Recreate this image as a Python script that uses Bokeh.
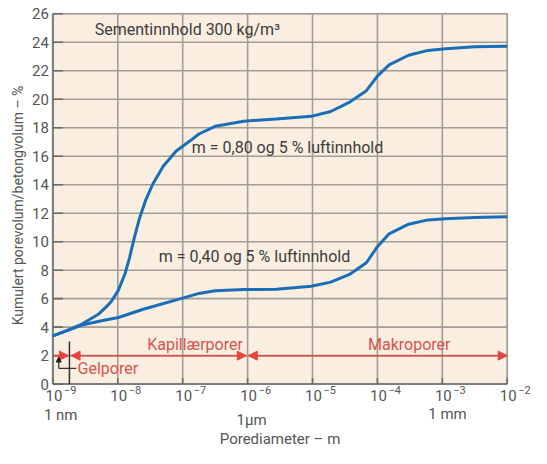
import math
from bokeh.plotting import figure
from bokeh.models import Label, Arrow, NormalHead, Range1d, BoxAnnotation
from bokeh.embed import file_html
from bokeh.resources import INLINE

# ---- data (log10 of pore diameter in m, cumulative pore volume %) ----
upper_exp = [-9.0, -8.775, -8.55, -8.30, -8.17, -8.10, -7.99, -7.89, -7.82, -7.75,
             -7.67, -7.57, -7.46, -7.30, -7.10, -6.88, -6.75, -6.50, -6.06, -5.56,
             -5.02, -4.72, -4.42, -4.17, -4.00, -3.82, -3.52, -3.22, -2.95, -2.50,
             -2.00]
upper_val = [3.39, 3.77, 4.22, 4.90, 5.46, 5.80, 6.60, 7.73, 8.85, 10.20,
             11.57, 12.92, 14.05, 15.30, 16.37, 17.10, 17.56, 18.10, 18.46, 18.62,
             18.80, 19.14, 19.82, 20.60, 21.63, 22.41, 23.09, 23.43, 23.55, 23.68,
             23.73]
lower_exp = [-9.0, -8.775, -8.55, -8.25, -7.99, -7.62, -7.50, -7.00, -6.75, -6.50,
             -6.06, -5.56, -5.02, -4.72, -4.42, -4.17, -4.00, -3.82, -3.52, -3.22,
             -2.95, -2.50, -2.00]
lower_val = [3.39, 3.77, 4.15, 4.45, 4.68, 5.24, 5.40, 6.04, 6.37, 6.55,
             6.64, 6.66, 6.87, 7.16, 7.73, 8.52, 9.65, 10.55, 11.23, 11.53,
             11.61, 11.70, 11.75]

x_tick_exps = [-9, -8, -7, -6, -5, -4, -3, -2]
x_tick_exp_labels = ["−9", "−8", "−7", "−6", "−5", "−4", "−3", "−2"]
y_ticks = list(range(0, 27, 2))
y_tick_labels = [str(v) for v in y_ticks]
unit_label_exps = [-9, -6, -3]
unit_labels = ["1 nm", "1\u00b5m", "1 mm"]

label_upper = "m = 0,80 og 5 % luftinnhold"
label_lower = "m = 0,40 og 5 % luftinnhold"
title_text = "Sementinnhold 300 kg/m\u00b3"
x_title = "Porediameter – m"
y_title = "Kumulert porevolum/betongvolum – %"

# pore class boundaries (log10 m)
gel_end = -8.76
kap_start, kap_end = -8.72, -6.02
makro_start, makro_end = -5.99, -2.0
pore_class_level = 2
gel_marker_exp = -8.745

X_MIN, X_MAX = 1e-9, 1e-2
Y_MIN, Y_MAX = 0, 26

FONT = "Roboto"
GRAY = "#555555"
DARK = "#3c3c3c"
RED = "#e5453f"
RED_TXT = "#d9534f"
BLUE = "#1a6eb8"
GRID = "#a39d97"
AXIS = "#7d7d7d"
TICK = "#6a6a6a"

# the frame spans the whole canvas so that axis texts can be drawn as labels
p = figure(width=531, height=448, x_axis_type="log",
           x_range=Range1d(10.0 ** -9.807, 10.0 ** -1.626), y_range=Range1d(-4.52, 26.934),
           output_backend="svg", toolbar_location=None,
           min_border_left=0, min_border_right=0, min_border_top=0, min_border_bottom=0)

p.background_fill_color = "white"
p.border_fill_color = "white"
p.outline_line_color = None
p.xgrid.visible = False
p.ygrid.visible = False
p.xaxis.visible = False
p.yaxis.visible = False

p.add_layout(BoxAnnotation(left=X_MIN, right=X_MAX, bottom=Y_MIN, top=Y_MAX,
                           fill_color="#FAEEE0", fill_alpha=1.0,
                           line_color="#8c8c8c", line_width=2, level="underlay"))

xt = [10.0 ** e for e in x_tick_exps]
n_x, n_y = len(xt), len(y_ticks)
# grid
p.segment(x0=xt, y0=[Y_MIN] * n_x, x1=xt, y1=[Y_MAX] * n_x, line_color=GRID, line_width=1.6)
p.segment(x0=[X_MIN] * n_y, y0=y_ticks, x1=[X_MAX] * n_y, y1=y_ticks, line_color=GRID, line_width=1.6)
# axis lines and inner ticks
p.segment(x0=[X_MIN], y0=[Y_MIN], x1=[X_MAX], y1=[Y_MIN], line_color=AXIS, line_width=2)
p.segment(x0=[X_MIN], y0=[Y_MIN], x1=[X_MIN], y1=[Y_MAX], line_color=AXIS, line_width=2)
p.segment(x0=xt, y0=[Y_MIN] * n_x, x1=xt, y1=[0.42] * n_x, line_color=TICK, line_width=1.6)
p.segment(x0=[X_MIN] * n_y, y0=y_ticks, x1=[10.0 ** -8.846] * n_y, y1=y_ticks, line_color=TICK, line_width=1.6)

# curves
p.line([10.0 ** e for e in upper_exp], upper_val, line_color=BLUE, line_width=3)
p.line([10.0 ** e for e in lower_exp], lower_val, line_color=BLUE, line_width=3)

# y tick labels and title
for v, lab in zip(y_ticks, y_tick_labels):
    p.add_layout(Label(x=X_MIN, y=v, text=lab, text_align="right", text_baseline="middle",
                       x_offset=-4, text_font=FONT, text_font_size="15px", text_color=GRAY))
p.add_layout(Label(x=10.0 ** -9.538, y=12.54, text=y_title, angle=math.pi / 2,
                   text_align="center", text_baseline="middle",
                   text_font=FONT, text_font_size="14px", text_color=GRAY))

# x tick labels 10^n with raised exponents
for e, lab in zip(x_tick_exps, x_tick_exp_labels):
    p.add_layout(Label(x=10.0 ** e, y=-0.80, text="10", text_align="center", text_baseline="middle",
                       x_offset=1, text_font=FONT, text_font_size="15px", text_color=GRAY))
    p.add_layout(Label(x=10.0 ** e, y=-0.42, text=lab, text_align="left", text_baseline="middle",
                       x_offset=11, text_font=FONT, text_font_size="11px", text_color=GRAY))

unit_y = [-2.18, -2.49, -2.07]
unit_off = [-9, -11, -14]
for e, lab, yy, off in zip(unit_label_exps, unit_labels, unit_y, unit_off):
    p.add_layout(Label(x=10.0 ** e, y=yy, text=lab, text_align="left", text_baseline="middle",
                       x_offset=off, text_font=FONT, text_font_size="15px", text_color=GRAY))

p.add_layout(Label(x=10.0 ** -5.5, y=-3.84, text=x_title, text_align="center", text_baseline="middle",
                   text_font=FONT, text_font_size="15px", text_color=GRAY))

# annotations
TS = "16px"
p.add_layout(Label(x=10.0 ** -8.356, y=24.9, text=title_text, text_align="left", text_baseline="middle",
                   text_font=FONT, text_font_size=TS, text_color=DARK))
p.add_layout(Label(x=10.0 ** -6.86, y=16.63, text=label_upper, text_align="left", text_baseline="middle",
                   text_font=FONT, text_font_size=TS, text_color=DARK))
p.add_layout(Label(x=10.0 ** -7.37, y=8.97, text=label_lower, text_align="left", text_baseline="middle",
                   text_font=FONT, text_font_size=TS, text_color=DARK))

# pore-class arrows
def head():
    return NormalHead(size=9, fill_color=RED, line_color=RED, line_width=1)

p.add_layout(Arrow(x_start=X_MIN, y_start=pore_class_level, x_end=10.0 ** gel_end, y_end=pore_class_level,
                   end=head(), line_color=RED, line_width=1.5))
p.add_layout(Arrow(x_start=10.0 ** kap_start, y_start=pore_class_level, x_end=10.0 ** kap_end,
                   y_end=pore_class_level, start=head(), end=head(), line_color=RED, line_width=1.5))
p.add_layout(Arrow(x_start=10.0 ** makro_start, y_start=pore_class_level, x_end=10.0 ** makro_end,
                   y_end=pore_class_level, start=head(), end=head(), line_color=RED, line_width=1.5))

p.add_layout(Label(x=10.0 ** -6.81, y=2.8, text="Kapillærporer", text_align="center", text_baseline="middle",
                   text_font=FONT, text_font_size=TS, text_color=RED_TXT))
p.add_layout(Label(x=10.0 ** -3.51, y=2.8, text="Makroporer", text_align="center", text_baseline="middle",
                   text_font=FONT, text_font_size=TS, text_color=RED_TXT))
p.add_layout(Label(x=10.0 ** -8.62, y=1.12, text="Gelporer", text_align="left", text_baseline="middle",
                   text_font=FONT, text_font_size=TS, text_color=RED_TXT))

# gel pore marker and bracket
p.segment(x0=[10.0 ** gel_marker_exp], y0=[0], x1=[10.0 ** gel_marker_exp], y1=[3.0],
          line_color="#333333", line_width=1.5)
p.segment(x0=[10.0 ** -8.91], y0=[1.11], x1=[10.0 ** -8.64], y1=[1.11], line_color="#333333", line_width=1.2)
p.add_layout(Arrow(x_start=10.0 ** -8.91, y_start=1.11, x_end=10.0 ** -8.91, y_end=1.9,
                   end=NormalHead(size=5, fill_color="#222222", line_color="#222222"),
                   line_color="#333333", line_width=1.2))

open("out.html", "w").write(file_html(p, INLINE))
